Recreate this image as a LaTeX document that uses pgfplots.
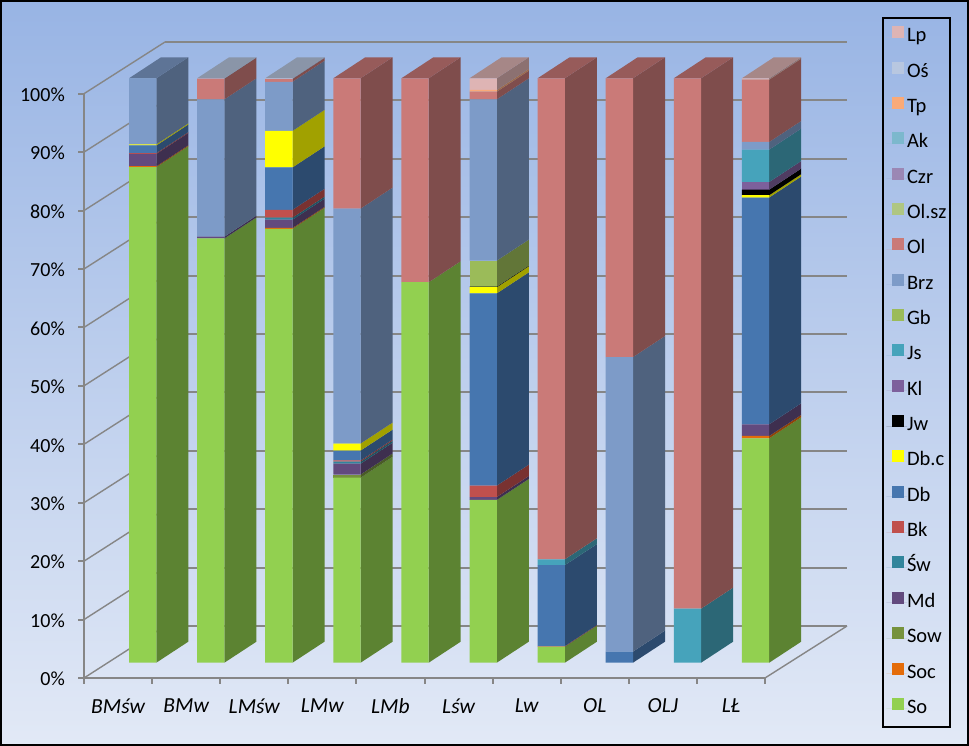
\documentclass[border=0pt]{standalone}
\usepackage{fontspec}
\setmainfont{Carlito}
\usepackage{pgfplots}
\usepackage{pgfplotstable}
\pgfplotsset{compat=1.18}
\definecolor{So}{RGB}{146,208,80}
\definecolor{Soc}{RGB}{228,108,10}
\definecolor{Sow}{RGB}{118,146,60}
\definecolor{Md}{RGB}{98,74,126}
\definecolor{Sw}{RGB}{49,133,156}
\definecolor{Bk}{RGB}{192,80,77}
\definecolor{Db}{RGB}{70,118,175}
\definecolor{Dbc}{RGB}{255,255,0}
\definecolor{Jw}{RGB}{0,0,0}
\definecolor{Kl}{RGB}{125,96,156}
\definecolor{Js}{RGB}{70,163,187}
\definecolor{Gb}{RGB}{155,187,89}
\definecolor{Brz}{RGB}{125,155,200}
\definecolor{Ol}{RGB}{202,122,120}
\definecolor{Olsz}{RGB}{175,198,130}
\definecolor{Czr}{RGB}{155,135,180}
\definecolor{Ak}{RGB}{124,184,205}
\definecolor{Tp}{RGB}{250,170,120}
\definecolor{Os}{RGB}{184,199,224}
\definecolor{Lp}{RGB}{222,180,180}
\definecolor{gridg}{RGB}{134,134,134}
\pgfplotstableread{
i So Soc Sow Md Sw Bk Db Dbc Jw Kl Js Gb Brz Ol Olsz Czr Ak Tp Os Lp
0 84.8 0.15 0 2.1 0 0.15 1.3 0.2 0 0 0 0 11.3 0 0 0 0 0 0 0
1 72.6 0 0 0.3 0 0 0 0 0 0 0 0 23.5 3.55 0 0 0 0 0.05 0
2 74.25 0.15 0 1.4 0.35 1.35 7.25 6.25 0 0 0 0 8.4 0.5 0 0 0 0 0.1 0
3 31.65 0 0.55 1.85 0.35 0.2 1.7 1.2 0 0 0 0 40.2 22.3 0 0 0 0 0 0
4 65.1 0 0 0 0 0 0 0 0 0 0 0 0 34.9 0 0 0 0 0 0
5 27.85 0 0 0.5 0 1.95 32.9 1.05 0.1 0 0 4.45 27.6 1.3 0 0 0 0.3 0 2.0
6 2.75 0 0 0 0 0.1 13.85 0 0 0 1.0 0 0 82.3 0 0 0 0 0 0
7 0 0 0 0 0 0 1.9 0 0 0 0 0 50.4 47.7 0 0 0 0 0 0
8 0 0 0 0 0 0 0 0 0 0 9.25 0 0 90.75 0 0 0 0 0 0
9 38.4 0.4 0 2.0 0 0 38.8 0.4 0.95 1.3 5.55 0 1.3 10.65 0 0 0 0.05 0 0.2
}\data
\newcommand\sz{\fontsize{20}{24}\selectfont}
\pgfplotsset{
  px axis/.style={scale only axis,width=969pt,height=746pt,at={(0pt,0pt)},anchor=south west,
    xmin=-2.0947,xmax=12.1344,ymin=-14.254,ymax=113.398,hide axis,clip=false},
  sw/.style={legend image code/.code={\fill[##1] (5.7pt,-1pt) rectangle (17.7pt,11pt);\path (0pt,0pt) -- (20.7pt,0pt);}},
}
\begin{document}
\begin{tikzpicture}
\path[use as bounding box] (0,0) rectangle (969pt,746pt);
\shade[top color={rgb,255:red,152;green,180;blue,228},bottom color={rgb,255:red,226;green,233;blue,246}] (0,0) rectangle (969pt,746pt);
\begin{scope}[x=1pt,y=-1pt,shift={(0,746pt)}]
  \foreach \k in {0,...,10}{
    \pgfmathsetmacro\yf{678-58.43*\k}
    \pgfmathsetmacro\yb{626-58.4*\k}
    \draw[gridg,line width=1.4pt] (84,\yf) -- (165,\yb);
    \draw[gridg,line width=2pt] (165,\yb) -- (847,\yb);
  }
  \draw[gridg,line width=1.4pt] (765,678) -- (847,626);
\end{scope}
% frame
\begin{axis}[scale only axis,width=681pt,height=584.3pt,at={(84pt,68pt)},anchor=south west,
  xmin=0,xmax=10,ymin=0,ymax=100,axis lines=left,axis line style={-,gridg,line width=2pt},
  tick style={gridg,line width=2pt},major tick length=6pt,tick align=outside,
  xtick={0,...,10},x tick label as interval=true,
  xticklabels={BMśw,BMw,LMśw,LMw,LMb,Lśw,Lw,OL,OLJ,LŁ},
  xticklabel style={font=\fontsize{21.5}{24}\selectfont\itshape,yshift=-11pt},
  ytick={0,10,...,100},
  yticklabels={0\%,10\%,20\%,30\%,40\%,50\%,60\%,70\%,80\%,90\%,100\%},
  yticklabel style={font=\sz,inner xsep=0pt,xshift=-13pt,yshift=-1pt}]
\end{axis}
% side and top faces
\begin{axis}[px axis,no markers]
\pgfplotsforeachungrouped \r in {0,...,9}{%
  \pgfmathsetmacro\xl{\r+0.20045}%
  \pgfmathsetmacro\xr{\xl+0.4699}%
  \pgfmathsetmacro\xa{\xl-0.4009}%
  \pgfmathsetmacro\xb{\xa+0.4699}%
  \def\cum{0}%
  \def\lastc{So}%
  \pgfplotsforeachungrouped \c in {So,Soc,Sow,Md,Sw,Bk,Db,Dbc,Jw,Kl,Js,Gb,Brz,Ol,Olsz,Czr,Ak,Tp,Os,Lp}{%
    \edef\temp{\noexpand\pgfplotstablegetelem{\r}{\c}\noexpand\of\noexpand\data}\temp
    \let\v\pgfplotsretval
    \pgfmathtruncatemacro\pos{\v>0}%
    \ifnum\pos=1
      \pgfmathsetmacro\a{\cum}%
      \pgfmathsetmacro\b{\cum+\v}%
      \pgfmathsetmacro\aa{\a+3.593}%
      \pgfmathsetmacro\bb{\b+3.593}%
      \edef\temp{\noexpand\addplot[fill=\c!63!black,draw=none] coordinates {(\xl,\a)(\xl,\b)(\xr,\bb)(\xr,\aa)};}\temp
      \let\cum\b
      \edef\lastc{\c}%
    \fi
  }%
  \edef\temp{\noexpand\addplot[fill=\lastc!75!black,draw=none] coordinates {(\xa,100)(\xl,100)(\xr,103.593)(\xb,103.593)};}\temp
}
\end{axis}
% front faces and legend
\begin{axis}[px axis,ybar stacked,bar width=27.3pt,reverse legend,
  legend cell align=left,
  legend style={at={(881.7/969,1-16.7/746)},anchor=north west,draw=black,line width=2pt,fill=none,
    font=\fontsize{20.5}{24}\selectfont,row sep=14.84pt,inner xsep=3.6pt,inner ysep=8.7pt,
    nodes={text height=14pt,text depth=5pt,inner ysep=0pt,inner xsep=0pt,line width=0pt}}]
\addplot[fill=So,draw=none,sw] table[x=i,y=So]{\data};
\addplot[fill=Soc,draw=none,sw] table[x=i,y=Soc]{\data};
\addplot[fill=Sow,draw=none,sw] table[x=i,y=Sow]{\data};
\addplot[fill=Md,draw=none,sw] table[x=i,y=Md]{\data};
\addplot[fill=Sw,draw=none,sw] table[x=i,y=Sw]{\data};
\addplot[fill=Bk,draw=none,sw] table[x=i,y=Bk]{\data};
\addplot[fill=Db,draw=none,sw] table[x=i,y=Db]{\data};
\addplot[fill=Dbc,draw=none,sw] table[x=i,y=Dbc]{\data};
\addplot[fill=Jw,draw=none,sw] table[x=i,y=Jw]{\data};
\addplot[fill=Kl,draw=none,sw] table[x=i,y=Kl]{\data};
\addplot[fill=Js,draw=none,sw] table[x=i,y=Js]{\data};
\addplot[fill=Gb,draw=none,sw] table[x=i,y=Gb]{\data};
\addplot[fill=Brz,draw=none,sw] table[x=i,y=Brz]{\data};
\addplot[fill=Ol,draw=none,sw] table[x=i,y=Ol]{\data};
\addplot[fill=Olsz,draw=none,sw] table[x=i,y=Olsz]{\data};
\addplot[fill=Czr,draw=none,sw] table[x=i,y=Czr]{\data};
\addplot[fill=Ak,draw=none,sw] table[x=i,y=Ak]{\data};
\addplot[fill=Tp,draw=none,sw] table[x=i,y=Tp]{\data};
\addplot[fill=Os,draw=none,sw] table[x=i,y=Os]{\data};
\addplot[fill=Lp,draw=none,sw] table[x=i,y=Lp]{\data};
\legend{So,Soc,Sow,Md,Św,Bk,Db,Db.c,Jw,Kl,Js,Gb,Brz,Ol,Ol.sz,Czr,Ak,Tp,Oś,Lp}
\end{axis}
\draw[black,line width=2pt] (1pt,1pt) rectangle (968pt,745pt);
\end{tikzpicture}
\end{document}
